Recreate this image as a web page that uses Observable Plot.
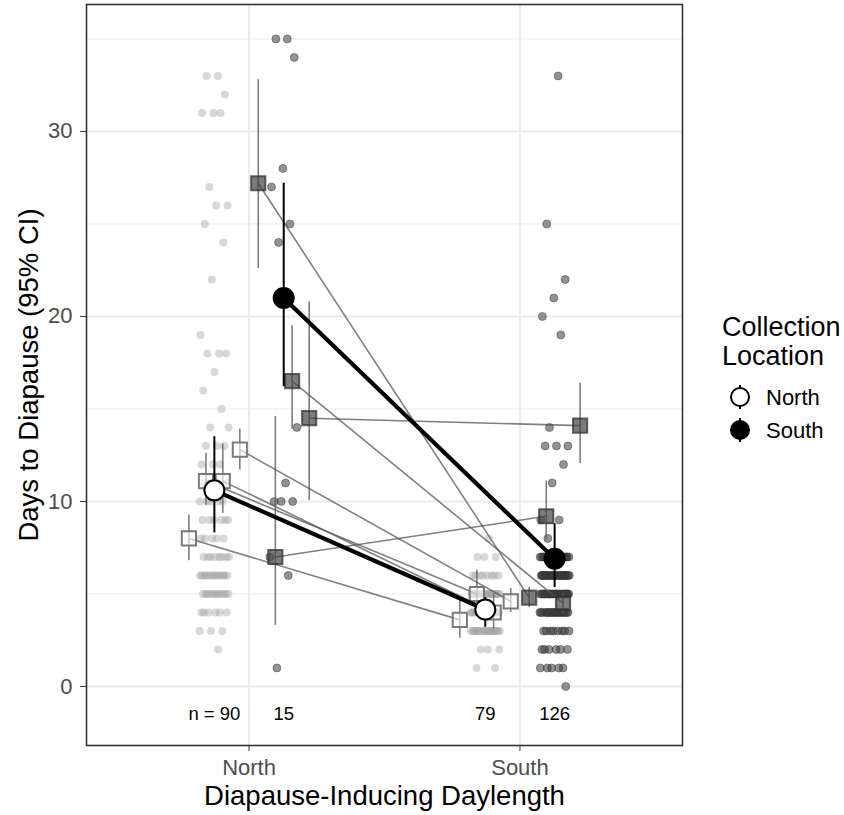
<!DOCTYPE html>
<html><head><meta charset="utf-8">
<script src="https://cdn.jsdelivr.net/npm/d3@7"></script>
<script src="https://cdn.jsdelivr.net/npm/@observablehq/plot@0.6"></script>
<style>
body{margin:0;background:#fff;font-family:"Liberation Sans",Arial,sans-serif;}
#wrap{position:relative;width:844px;height:815px;overflow:hidden;}
#legend{position:absolute;left:700px;top:300px;}
</style></head><body><div id="wrap"></div>
<script>
// categories
const daylengths = ["North", "South"];
const locations = ["North", "South"];

// raw observations: days to diapause, by collection location x daylength
const rawNorthLoc_NorthDay = [33,33,32,31,31,31,27,26,26,25,24,22,19,18,18,18,17,16,15,
  14,14,13,13,13,12,12,12,11,11,11,11,10,10,10,10,10,9,9,9,9,9,9,8,8,8,8,8,
  7,7,7,7,7,7,7,7,6,6,6,6,6,6,6,6,6,6,6,6,6,5,5,5,5,5,5,5,5,5,5,5,5,4,4,4,4,4,4,3,3,3,2];
const rawSouthLoc_NorthDay = [35,35,34,28,27,25,24,14,11,10,10,10,7,6,1];
const rawNorthLoc_SouthDay = [8,7,7,7,6,6,6,6,6,6,6,6,
  5,5,5,5,5,5,5,5,5,5,5,5,5,5,5,5,5,5,5,5,
  4,4,4,4,4,4,4,4,4,4,4,4,4,4,4,4,4,4,4,4,4,4,
  3,3,3,3,3,3,3,3,3,3,3,3,3,3,3,3,3,3,3,3,2,2,2,1,1];
const rawSouthLoc_SouthDay = [33,25,22,21,20,19,14,13,13,13,12,11,9,9,8,
  7,7,7,7,7,7,7,7,7,7,7,7,7,7,7,7,7,7,7,7,
  6,6,6,6,6,6,6,6,6,6,6,6,6,6,6,6,6,6,6,6,6,6,6,6,6,6,
  5,5,5,5,5,5,5,5,5,5,5,5,5,5,5,5,5,5,5,5,5,5,5,5,5,
  4,4,4,4,4,4,4,4,4,4,4,4,4,4,4,4,4,4,4,4,
  3,3,3,3,3,3,3,3,2,2,2,2,2,2,1,1,1,1,1,0];

// family means with 95% CI
const famMeanNorthLoc_NorthDay = [8.0, 11.1, 11.1, 12.8];
const famLowNorthLoc_NorthDay  = [6.8, 9.8, 9.35, 11.7];
const famHighNorthLoc_NorthDay = [9.25, 12.6, 13.1, 13.9];
const famMeanNorthLoc_SouthDay = [3.6, 5.0, 4.0, 4.6];
const famLowNorthLoc_SouthDay  = [2.6, 4.1, 3.1, 4.0];
const famHighNorthLoc_SouthDay = [4.65, 6.3, 5.0, 5.3];
const famMeanSouthLoc_NorthDay = [27.2, 7.0, 16.5, 14.5];
const famLowSouthLoc_NorthDay  = [22.6, 3.3, 13.9, 10.05];
const famHighSouthLoc_NorthDay = [32.8, 14.6, 19.5, 20.8];
const famMeanSouthLoc_SouthDay = [4.8, 9.2, 4.5, 14.1];
const famLowSouthLoc_SouthDay  = [4.27, 7.9, 3.9, 12.05];
const famHighSouthLoc_SouthDay = [5.35, 11.1, 5.0, 16.4];

// overall means (per daylength North, South) with 95% CI
const meanNorthLoc = [10.6, 4.16];
const lowNorthLoc  = [8.3, 3.2];
const highNorthLoc = [13.5, 4.8];
const meanSouthLoc = [21.0, 6.9];
const lowSouthLoc  = [16.2, 5.35];
const highSouthLoc = [27.2, 8.8];

// sample sizes: [loc][day]
const nNorthLoc = [90, 79];
const nSouthLoc = [15, 126];

// ---- layout helpers (positions only) ----
const locOffset = {North: -0.128, South: 0.128};
const famOffset = [-0.094, -0.031, 0.031, 0.094];
const dayPos = d => daylengths.indexOf(d) + 1;
const jitter = i => (((i + 1) * 0.6180339887) % 1 - 0.5) * 0.11;

const rawSets = [
  ["North", "North", rawNorthLoc_NorthDay],
  ["North", "South", rawNorthLoc_SouthDay],
  ["South", "North", rawSouthLoc_NorthDay],
  ["South", "South", rawSouthLoc_SouthDay]
];
const raw = [];
for (const [loc, day, vals] of rawSets)
  vals.forEach((v, i) => raw.push({loc, day, y: v, x: dayPos(day) + locOffset[loc] + jitter(i)}));

const famSets = {
  North: {North: [famMeanNorthLoc_NorthDay, famLowNorthLoc_NorthDay, famHighNorthLoc_NorthDay],
          South: [famMeanNorthLoc_SouthDay, famLowNorthLoc_SouthDay, famHighNorthLoc_SouthDay]},
  South: {North: [famMeanSouthLoc_NorthDay, famLowSouthLoc_NorthDay, famHighSouthLoc_NorthDay],
          South: [famMeanSouthLoc_SouthDay, famLowSouthLoc_SouthDay, famHighSouthLoc_SouthDay]}
};
const fam = [], famLinks = [];
for (const loc of locations) {
  for (const day of daylengths) {
    const [m, lo, hi] = famSets[loc][day];
    m.forEach((v, k) => fam.push({loc, day, k, y: v, lo: lo[k], hi: hi[k],
      x: dayPos(day) + locOffset[loc] + famOffset[k]}));
  }
  const mN = famSets[loc].North[0], mS = famSets[loc].South[0];
  mN.forEach((v, k) => famLinks.push({loc,
    x1: 1 + locOffset[loc] + famOffset[k], y1: v,
    x2: 2 + locOffset[loc] + famOffset[k], y2: mS[k]}));
}

const overallSets = {North: [meanNorthLoc, lowNorthLoc, highNorthLoc], South: [meanSouthLoc, lowSouthLoc, highSouthLoc]};
const overall = [], overallLinks = [];
for (const loc of locations) {
  const [m, lo, hi] = overallSets[loc];
  daylengths.forEach((day, j) => overall.push({loc, day, y: m[j], lo: lo[j], hi: hi[j], x: j + 1 + locOffset[loc]}));
  overallLinks.push({loc, x1: 1 + locOffset[loc], y1: m[0], x2: 2 + locOffset[loc], y2: m[1]});
}

const nSets = {North: nNorthLoc, South: nSouthLoc};
const nLabels = [];
daylengths.forEach((day, j) => locations.forEach(loc => {
  const n = nSets[loc][j];
  nLabels.push({x: j + 1 + locOffset[loc], y: -1.5, text: (j === 0 && loc === "North") ? "n = " + n : String(n)});
}));

const chart = Plot.plot({
  width: 844, height: 815,
  marginLeft: 86, marginRight: 162, marginTop: 4, marginBottom: 70,
  x: {domain: [0.4, 2.6], axis: null},
  y: {domain: [-3.19, 36.86], axis: null},
  style: {fontFamily: "'Liberation Sans', Arial, sans-serif", background: "white", overflow: "visible"},
  marks: [
    Plot.gridY([5, 15, 25, 35], {stroke: "#ebebeb", strokeOpacity: 1, strokeWidth: 1}),
    Plot.gridY([0, 10, 20, 30], {stroke: "#ebebeb", strokeOpacity: 1, strokeWidth: 2}),
    Plot.gridX([1, 2], {stroke: "#ebebeb", strokeOpacity: 1, strokeWidth: 2}),
    // raw points
    Plot.dot(raw.filter(d => d.loc === "North"), {x: "x", y: "y", r: 4, fill: "#a3a3a3", fillOpacity: 0.42, stroke: "none"}),
    Plot.dot(raw.filter(d => d.loc === "South"), {x: "x", y: "y", r: 4, fill: "#3a3a3a", fillOpacity: 0.55, stroke: "#333", strokeOpacity: 0.45, strokeWidth: 1}),
    // family error bars and lines
    Plot.ruleX(fam, {x: "x", y1: "lo", y2: "hi", stroke: "#666", strokeOpacity: 0.85, strokeWidth: 1.6}),
    Plot.link(famLinks, {x1: "x1", y1: "y1", x2: "x2", y2: "y2", stroke: "#555", strokeOpacity: 0.75, strokeWidth: 1.6}),
    // family squares
    Plot.dot(fam.filter(d => d.loc === "North"), {x: "x", y: "y", symbol: "square", r: 8, fill: "white", fillOpacity: 0.6, stroke: "#7a7a7a", strokeWidth: 2}),
    Plot.dot(fam.filter(d => d.loc === "South"), {x: "x", y: "y", symbol: "square", r: 8, fill: "#444", fillOpacity: 0.7, stroke: "#333", strokeOpacity: 0.75, strokeWidth: 2}),
    // overall means
    Plot.link(overallLinks, {x1: "x1", y1: "y1", x2: "x2", y2: "y2", stroke: "black", strokeWidth: 4.2}),
    Plot.ruleX(overall, {x: "x", y1: "lo", y2: "hi", stroke: "black", strokeWidth: 2}),
    Plot.dot(overall, {x: "x", y: "y", r: 10, fill: d => d.loc === "North" ? "white" : "black", stroke: "black", strokeWidth: 2}),
    // sample sizes
    Plot.text(nLabels, {x: "x", y: "y", text: "text", fontSize: 18.5, fill: "black"}),
    Plot.frame({stroke: "#333", strokeWidth: 1.6}),
    // axes
    Plot.axisY([0, 10, 20, 30], {anchor: "left", tickSize: 6, tickPadding: 8, fontSize: 22, stroke: "#333", fill: "#4d4d4d", label: null}),
    Plot.axisX([1, 2], {anchor: "bottom", tickSize: 6, tickPadding: 8, fontSize: 22, stroke: "#333", fill: "#4d4d4d", label: null, tickFormat: d => daylengths[d - 1]}),
    Plot.text(["Days to Diapause (95% CI)"], {frameAnchor: "left", dx: -57, rotate: -90, fontSize: 27.5, fill: "black", lineAnchor: "middle", textAnchor: "middle"}),
    Plot.text(["Diapause-Inducing Daylength"], {frameAnchor: "bottom", dy: 51, fontSize: 27.5, fill: "black", lineAnchor: "middle", textAnchor: "middle"})
  ]
});
const wrap = document.getElementById("wrap");
wrap.appendChild(chart);

// legend (right side)
const legend = document.createElement("div");
legend.id = "legend";
legend.innerHTML = `<svg width="144" height="150" xmlns="http://www.w3.org/2000/svg" style="font-family:'Liberation Sans',Arial,sans-serif">
  <text x="22" y="36" font-size="27" fill="black">Collection</text>
  <text x="22" y="65" font-size="27" fill="black">Location</text>
  <line x1="40" x2="40" y1="85" y2="109" stroke="black" stroke-width="2"/>
  <circle cx="40" cy="97" r="9" fill="white" stroke="black" stroke-width="2"/>
  <text x="66" y="105" font-size="22" fill="black">${locations[0]}</text>
  <line x1="40" x2="40" y1="118" y2="142" stroke="black" stroke-width="2"/>
  <circle cx="40" cy="130" r="9" fill="black" stroke="black" stroke-width="2"/>
  <text x="66" y="138" font-size="22" fill="black">${locations[1]}</text>
</svg>`;
wrap.appendChild(legend);
</script>
</body></html>
